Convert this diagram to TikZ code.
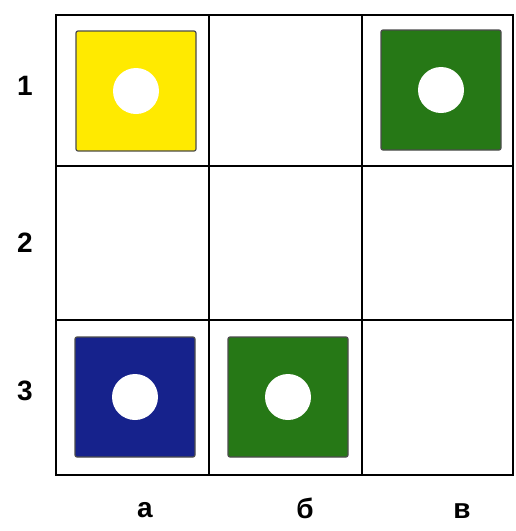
\documentclass[tikz,border=0pt]{standalone}
\usepackage{fontspec}
\setmainfont{Liberation Sans}
\definecolor{chipyellow}{RGB}{255,234,0}
\definecolor{chipgreen}{RGB}{38,120,22}
\definecolor{chipblue}{RGB}{22,34,140}
\tikzset{
  chip/.style={draw=black!70, line width=1.2pt, rounded corners=2pt, minimum size=120pt, inner sep=0pt},
  hole/.style={circle, fill=white, minimum size=46pt, inner sep=0pt},
  tag/.style={font=\bfseries\fontsize{28}{28}\selectfont, inner sep=0pt}
}
\begin{document}
\begin{tikzpicture}[x=1pt,y=-1pt]
			\useasboundingbox (0,0) rectangle (515,531);
			% Grid 3x3
			\draw[line width=2.6pt] (56,15) rectangle (513,475);
			\foreach \x in {209,362} {
				\draw[line width=2.4pt] (\x,15) -- (\x,475);
			}
			\foreach \y in {166,320} {
				\draw[line width=2.4pt] (56,\y) -- (513,\y);
			}
			
			% Chips
			\node[chip, fill=chipyellow] (a1) at (136,91) {};
			\node[chip, fill=chipgreen] (v1) at (441,90) {};
			\node[chip, fill=chipblue] (a3) at (135,397) {};
			\node[chip, fill=chipgreen] (b3) at (288,397) {};
			\foreach \c in {a1,v1,a3,b3} {
				\node[hole] (\c h) at (\c) {};
			}
			
			% Labels
			\node[tag] (r1) at (25,86) {1};
			\node[tag] (r2) at (25,243) {2};
			\node[tag] (r3) at (25,391) {3};
			\node[tag] (ca) at (145,510) {а};
			\node[tag] (cb) at (305,508) {б};
			\node[tag] (cv) at (462,511) {в};
		\end{tikzpicture}
\end{document}
